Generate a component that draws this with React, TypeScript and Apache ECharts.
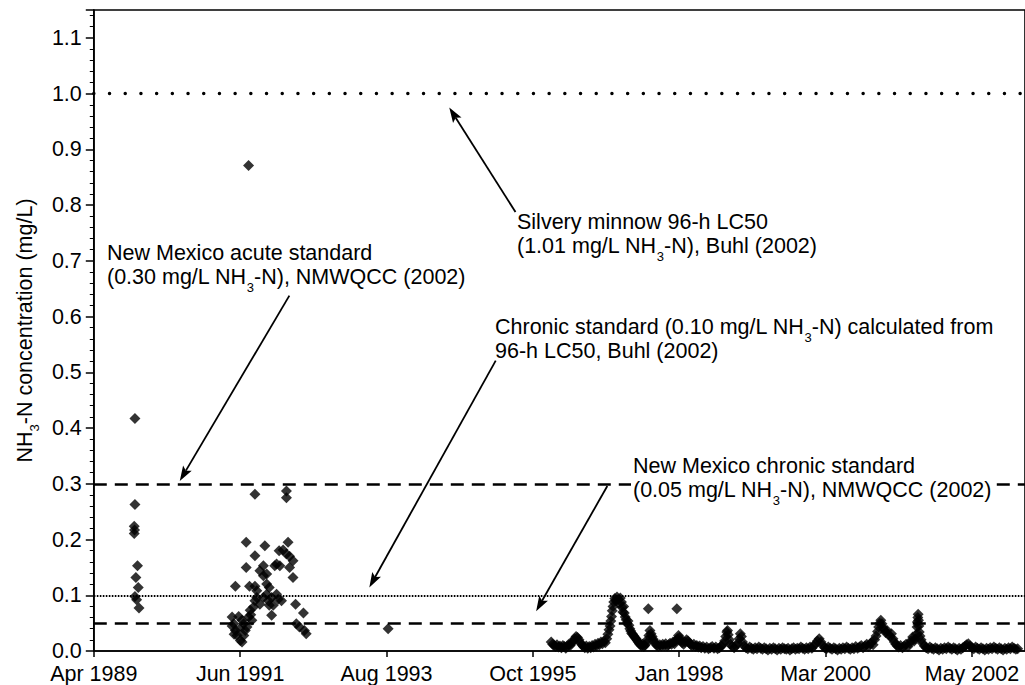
import React, { useEffect, useRef } from 'react';
import * as echarts from 'echarts';

// x values are spreadsheet date serials (days since 30 Dec 1899)
const X_FIRST_TICK = 32600; // Apr 1989
const X_TICK_STEP = 800;
const X_END = 37690;
const Y_MAX = 1.15;
const Y_TICK_STEP = 0.1;

const MONTHS = ['Jan', 'Feb', 'Mar', 'Apr', 'May', 'Jun', 'Jul', 'Aug', 'Sep', 'Oct', 'Nov', 'Dec'];

// samples, late 1989
const samples1989: [number, number][] = [
  [32825, 0.417], [32825, 0.263], [32821, 0.224], [32823, 0.217], [32821, 0.211],
  [32839, 0.153], [32830, 0.132], [32843, 0.114], [32825, 0.098], [32834, 0.092], [32847, 0.077],
];

// samples, 1991-1992
const samples1991: [number, number][] = [
  [33356, 0.061], [33365, 0.049], [33374, 0.037], [33383, 0.028], [33401, 0.019], [33410, 0.016],
  [33374, 0.116], [33392, 0.062], [33410, 0.055], [33419, 0.049], [33428, 0.037], [33437, 0.043],
  [33433, 0.195], [33433, 0.150], [33446, 0.061], [33451, 0.116], [33455, 0.073], [33464, 0.055],
  [33473, 0.079], [33481, 0.281], [33481, 0.116], [33481, 0.090], [33481, 0.171], [33491, 0.096],
  [33508, 0.144], [33508, 0.084], [33527, 0.153], [33527, 0.096], [33535, 0.189], [33545, 0.138],
  [33545, 0.102], [33554, 0.090], [33559, 0.114], [33559, 0.082], [33572, 0.064], [33572, 0.096],
  [33581, 0.082], [33589, 0.153], [33599, 0.102], [33608, 0.093], [33613, 0.180], [33617, 0.153],
  [33626, 0.090], [33635, 0.181], [33653, 0.287], [33653, 0.275], [33653, 0.174], [33662, 0.195],
  [33670, 0.150], [33670, 0.170], [33689, 0.162], [33689, 0.132], [33703, 0.084], [33707, 0.049],
  [33724, 0.043], [33746, 0.068], [33751, 0.037], [33761, 0.031], [33356, 0.045], [33367, 0.030],
  [33399, 0.040], [33420, 0.028], [33458, 0.065], [33491, 0.108], [33545, 0.120], [33527, 0.135],
  [33599, 0.156], [33446, 0.871],
];

// sample, 1993
const samples1993: [number, number][] = [[34209, 0.040]];

// near-continuous record, 1996-2002
const samples1996to2002: [number, number][] = [
  [35100, 0.016], [35108, 0.012], [35116, 0.010], [35124, 0.008], [35132, 0.011], [35140, 0.007],
  [35148, 0.009], [35156, 0.006], [35164, 0.010], [35172, 0.008], [35180, 0.005], [35188, 0.009],
  [35196, 0.012], [35204, 0.010], [35212, 0.014], [35220, 0.018], [35228, 0.022], [35236, 0.026],
  [35244, 0.024], [35252, 0.020], [35260, 0.015], [35268, 0.011], [35276, 0.008], [35284, 0.006],
  [35292, 0.009], [35300, 0.005], [35308, 0.008], [35316, 0.006], [35324, 0.010], [35332, 0.007],
  [35340, 0.012], [35348, 0.009], [35356, 0.014], [35364, 0.011], [35372, 0.016], [35380, 0.013],
  [35388, 0.018], [35396, 0.015], [35404, 0.022], [35410, 0.030], [35416, 0.038], [35422, 0.045],
  [35426, 0.054], [35430, 0.062], [35434, 0.072], [35438, 0.080], [35442, 0.088], [35448, 0.094],
  [35454, 0.090], [35460, 0.097], [35466, 0.092], [35472, 0.085], [35478, 0.095], [35484, 0.088],
  [35488, 0.078], [35492, 0.070], [35496, 0.080], [35500, 0.068], [35505, 0.061], [35510, 0.056],
  [35515, 0.050], [35520, 0.054], [35525, 0.046], [35530, 0.040], [35535, 0.036], [35540, 0.032],
  [35546, 0.030], [35552, 0.027], [35558, 0.024], [35564, 0.022], [35570, 0.019], [35576, 0.016],
  [35582, 0.013], [35588, 0.011], [35594, 0.009], [35600, 0.012], [35606, 0.008], [35612, 0.010],
  [35620, 0.014], [35626, 0.020], [35631, 0.076], [35634, 0.028], [35640, 0.037], [35646, 0.031],
  [35652, 0.026], [35658, 0.021], [35664, 0.017], [35670, 0.013], [35678, 0.010], [35686, 0.008],
  [35694, 0.011], [35702, 0.009], [35710, 0.012], [35718, 0.010], [35726, 0.013], [35734, 0.009],
  [35742, 0.011], [35750, 0.014], [35758, 0.012], [35766, 0.016], [35774, 0.013], [35780, 0.018],
  [35787, 0.076], [35790, 0.022], [35796, 0.028], [35802, 0.024], [35808, 0.019], [35816, 0.015],
  [35824, 0.012], [35832, 0.016], [35840, 0.020], [35848, 0.018], [35856, 0.014], [35864, 0.011],
  [35872, 0.009], [35880, 0.012], [35888, 0.008], [35896, 0.010], [35904, 0.007], [35912, 0.009],
  [35920, 0.006], [35930, 0.008], [35940, 0.005], [35950, 0.007], [35960, 0.004], [35970, 0.006],
  [35980, 0.008], [35990, 0.005], [36000, 0.007], [36010, 0.004], [36020, 0.006], [36030, 0.009],
  [36040, 0.012], [36048, 0.018], [36054, 0.026], [36060, 0.034], [36064, 0.037], [36068, 0.029],
  [36074, 0.020], [36080, 0.012], [36090, 0.008], [36100, 0.006], [36110, 0.009], [36120, 0.014],
  [36128, 0.022], [36134, 0.031], [36140, 0.026], [36146, 0.016], [36155, 0.009], [36165, 0.006],
  [36175, 0.004], [36185, 0.007], [36195, 0.005], [36205, 0.003], [36215, 0.006], [36225, 0.004],
  [36235, 0.007], [36245, 0.005], [36255, 0.003], [36265, 0.006], [36275, 0.004], [36285, 0.002],
  [36295, 0.005], [36305, 0.003], [36315, 0.006], [36325, 0.004], [36335, 0.002], [36345, 0.005],
  [36355, 0.003], [36365, 0.006], [36375, 0.004], [36385, 0.003], [36395, 0.005], [36405, 0.002],
  [36415, 0.004], [36425, 0.006], [36435, 0.003], [36445, 0.005], [36455, 0.004], [36465, 0.007],
  [36475, 0.005], [36485, 0.003], [36495, 0.006], [36505, 0.004], [36515, 0.007], [36525, 0.005],
  [36535, 0.009], [36545, 0.013], [36555, 0.018], [36565, 0.022], [36575, 0.016], [36585, 0.010],
  [36595, 0.006], [36605, 0.004], [36615, 0.007], [36625, 0.005], [36635, 0.003], [36645, 0.006],
  [36655, 0.004], [36665, 0.002], [36675, 0.005], [36685, 0.003], [36695, 0.006], [36705, 0.004],
  [36715, 0.007], [36725, 0.005], [36735, 0.003], [36745, 0.006], [36755, 0.004], [36765, 0.008],
  [36775, 0.005], [36785, 0.007], [36795, 0.010], [36805, 0.006], [36815, 0.009], [36825, 0.012],
  [36835, 0.008], [36845, 0.013], [36852, 0.016], [36860, 0.011], [36868, 0.020], [36876, 0.027],
  [36884, 0.035], [36890, 0.043], [36896, 0.050], [36902, 0.055], [36908, 0.049], [36914, 0.042],
  [36920, 0.038], [36928, 0.033], [36936, 0.037], [36944, 0.030], [36952, 0.026], [36960, 0.031],
  [36968, 0.022], [36976, 0.016], [36984, 0.012], [36992, 0.009], [37000, 0.007], [37010, 0.010],
  [37020, 0.006], [37030, 0.009], [37040, 0.012], [37050, 0.008], [37060, 0.014], [37068, 0.019],
  [37076, 0.025], [37084, 0.018], [37090, 0.022], [37096, 0.030], [37100, 0.043], [37102, 0.052],
  [37104, 0.060], [37106, 0.066], [37108, 0.055], [37110, 0.045], [37112, 0.034], [37116, 0.027],
  [37122, 0.020], [37130, 0.014], [37140, 0.009], [37150, 0.006], [37160, 0.004], [37170, 0.007],
  [37180, 0.005], [37190, 0.003], [37200, 0.006], [37210, 0.004], [37220, 0.002], [37230, 0.005],
  [37240, 0.003], [37250, 0.006], [37260, 0.004], [37270, 0.007], [37280, 0.005], [37290, 0.003],
  [37300, 0.006], [37310, 0.004], [37320, 0.002], [37330, 0.005], [37340, 0.003], [37350, 0.006],
  [37360, 0.008], [37370, 0.011], [37380, 0.013], [37390, 0.009], [37400, 0.006], [37410, 0.004],
  [37420, 0.007], [37430, 0.005], [37440, 0.003], [37450, 0.006], [37460, 0.004], [37470, 0.002],
  [37480, 0.005], [37490, 0.003], [37500, 0.006], [37510, 0.004], [37520, 0.007], [37530, 0.005],
  [37540, 0.003], [37550, 0.006], [37560, 0.004], [37570, 0.002], [37580, 0.005], [37590, 0.003],
  [37600, 0.006], [37610, 0.004], [37620, 0.007], [37630, 0.005], [37640, 0.003], [37650, 0.004],
];

// reference levels (mg/L): LC50, acute standard, chronic from LC50, NM chronic standard
const referenceLevels = [1.0, 0.3, 0.1, 0.05];

const annotationTexts = [
  'New Mexico acute standard\n(0.30 mg/L NH{s|3}-N), NMWQCC (2002)',
  'Silvery minnow 96-h LC50\n(1.01 mg/L NH{s|3}-N), Buhl (2002)',
  'Chronic standard (0.10 mg/L NH{s|3}-N) calculated from\n96-h LC50, Buhl (2002)',
  'New Mexico chronic standard\n(0.05 mg/L NH{s|3}-N), NMWQCC (2002)',
];

const FONT = 'Liberation Sans';
const FS = 21.5;
const TICK_FS = 21.5;
const INK = '#000';

export default function App() {
  const ref = useRef<HTMLDivElement>(null);

  useEffect(() => {
    const chart = echarts.init(ref.current!, null, { renderer: 'svg' });
    const toX = (s: number) => s - X_FIRST_TICK;
    const pts = (arr: [number, number][]) => arr.map(([s, v]) => [toX(s), v]);
    const allPoints = [
      ...pts(samples1989),
      ...pts(samples1991),
      ...pts(samples1993),
      ...pts(samples1996to2002),
    ];

    const refStyles: any[] = [
      { type: [0.1, 15.6], width: 3.4, cap: 'round' },
      { type: [13, 8], width: 2.7 },
      { type: [1.6, 1.4], width: 2 },
      { type: [13, 8], width: 2.7 },
    ];

    const subRich = {
      s: { fontSize: 13, fontFamily: FONT, color: INK, padding: [20, 0, 0, 0], lineHeight: 24 },
    };

    chart.setOption({
      animation: false,
      backgroundColor: '#fff',
      grid: {
        left: 85,
        right: -3,
        top: 10,
        bottom: 31,
        show: true,
        borderColor: INK,
        borderWidth: 1.6,
        backgroundColor: 'transparent',
      },
      xAxis: {
        type: 'value',
        min: 0,
        max: X_END - X_FIRST_TICK,
        interval: X_TICK_STEP,
        axisLine: { show: true, onZero: false, lineStyle: { color: INK, width: 1.6 } },
        axisTick: { show: true, length: 6, lineStyle: { color: INK, width: 1.5 } },
        axisLabel: {
          margin: 12,
          fontSize: TICK_FS,
          fontFamily: FONT,
          color: INK,
          showMaxLabel: false,
          formatter: (v: number) => {
            if (Math.abs(v % X_TICK_STEP) > 1e-6) return '';
            const d = new Date(Date.UTC(1899, 11, 30) + (v + X_FIRST_TICK) * 86400000);
            return MONTHS[d.getUTCMonth()] + ' ' + d.getUTCFullYear();
          },
        },
        splitLine: { show: false },
      },
      yAxis: {
        type: 'value',
        min: 0,
        max: Y_MAX,
        interval: Y_TICK_STEP,
        name: 'NH{s|3}-N concentration (mg/L)',
        nameLocation: 'middle',
        nameRotate: 90,
        nameGap: 56,
        nameTextStyle: { fontSize: FS, fontFamily: FONT, color: INK, lineHeight: 24, rich: subRich },
        axisLine: { show: true, onZero: false, lineStyle: { color: INK, width: 1.6 } },
        axisTick: { show: true, length: 8, lineStyle: { color: INK, width: 1.5 } },
        minorTick: { show: true, splitNumber: 5, length: 4, lineStyle: { color: INK, width: 1 } },
        axisLabel: {
          margin: 12,
          fontSize: TICK_FS,
          fontFamily: FONT,
          color: INK,
          showMaxLabel: false,
          formatter: (v: number) => {
            const k = v / Y_TICK_STEP;
            if (Math.abs(k - Math.round(k)) > 1e-6) return '';
            return v.toFixed(1);
          },
        },
        splitLine: { show: false },
        minorSplitLine: { show: false },
      },
      series: [
        {
          type: 'scatter',
          symbol: 'diamond',
          symbolSize: 11,
          itemStyle: { color: INK },
          data: allPoints,
          z: 3,
          markLine: {
            silent: true,
            symbol: 'none',
            label: { show: false },
            z: 2,
            data: referenceLevels.map((v, i) => ({
              yAxis: v,
              lineStyle: { color: INK, ...refStyles[i] },
            })),
          },
        },
      ],
    });

    const px = (p: [number, number]) =>
      chart.convertToPixel({ gridIndex: 0 }, [toX(p[0]), p[1]]) as number[];

    const arrow = (from: [number, number], to: [number, number]) => {
      const [x1, y1] = px(from);
      const [x2, y2] = px(to);
      const dx = x2 - x1;
      const dy = y2 - y1;
      const L = Math.hypot(dx, dy);
      const ux = dx / L;
      const uy = dy / L;
      const nx = -uy;
      const ny = ux;
      const head = 15;
      const half = 5;
      const bx = x2 - ux * head;
      const by = y2 - uy * head;
      return [
        {
          type: 'line',
          shape: { x1, y1, x2: bx + ux * 3, y2: by + uy * 3 },
          style: { stroke: INK, lineWidth: 1.8 },
          z: 10,
        },
        {
          type: 'polygon',
          shape: {
            points: [
              [x2, y2],
              [bx + nx * half, by + ny * half],
              [bx + ux * 3, by + uy * 3],
              [bx - nx * half, by - ny * half],
            ],
          },
          style: { fill: INK },
          z: 10,
        },
      ];
    };

    const textEl = (i: number, x: number, y: number, opaque = false) => ({
      type: 'text',
      x,
      y,
      z: 10,
      style: {
        text: annotationTexts[i],
        fontSize: FS,
        fontFamily: FONT,
        fill: INK,
        lineHeight: 24,
        verticalAlign: 'top',
        align: 'left',
        rich: subRich,
        ...(opaque ? { backgroundColor: '#fff', padding: [0, 4, 0, 2] } : {}),
      },
    });

    chart.setOption({
      graphic: [
        textEl(0, 107, 241),
        textEl(1, 517, 210),
        textEl(2, 495, 315),
        textEl(3, 631, 454, true),
        ...arrow([33669, 0.6375], [33070, 0.305]),
        ...arrow([34905, 0.7875], [34543, 0.975]),
        ...arrow([34797, 0.521], [34106, 0.114]),
        ...arrow([35407, 0.296], [35018, 0.0714]),
      ],
    });

    return () => chart.dispose();
  }, []);

  return (
    <div
      ref={ref}
      style={{ position: 'fixed', left: 0, top: 0, width: 1025, height: 685, background: '#fff' }}
    />
  );
}
